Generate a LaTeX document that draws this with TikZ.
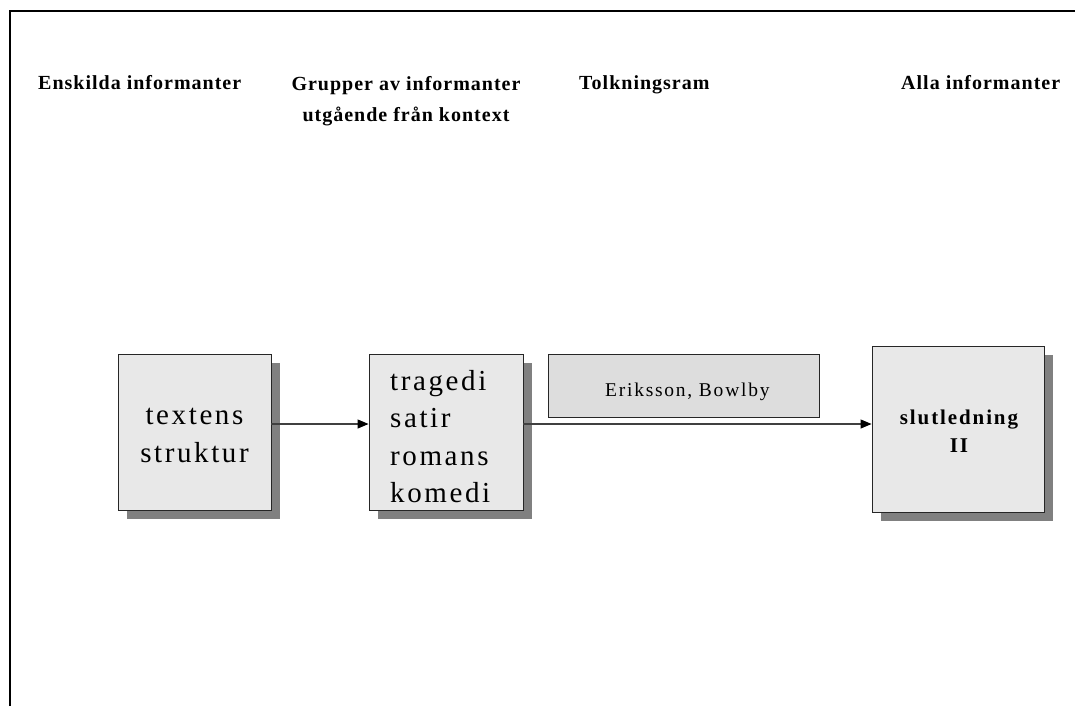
\documentclass[tikz,border=0pt]{standalone}
\usepackage{fontspec}
\setmainfont{Liberation Serif}
\newfontfamily\headfont[LetterSpace=5]{Liberation Serif}
\newfontfamily\boxfont[LetterSpace=9]{Liberation Serif}
\newfontfamily\namefont[LetterSpace=9]{Liberation Serif}
\newfontfamily\endfont[LetterSpace=9]{Liberation Serif}
\usetikzlibrary{arrows.meta,shadows}
\definecolor{boxgray}{HTML}{E8E8E8}
\definecolor{namegray}{HTML}{DDDDDD}
\definecolor{shadowgray}{HTML}{808080}
\tikzset{
  head/.style={font=\headfont\bfseries\fontsize{20}{31}\selectfont, inner sep=0pt},
  stagebox/.style={draw=black!85, line width=0.9pt, fill=boxgray, inner sep=0pt,
    drop shadow={shadow xshift=9pt, shadow yshift=-9pt, fill=shadowgray, opacity=1}},
  namebox/.style={draw=black!85, line width=0.9pt, fill=namegray, inner sep=0pt},
  boxtext/.style={font=\boxfont\fontsize{29}{37.5}\selectfont, inner sep=0pt},
  flow/.style={draw=black!75, line width=1.1pt, -{Triangle[length=11pt,width=9pt,color=black,fill=black]}},
}
\begin{document}
\begin{tikzpicture}[x=1pt,y=-1pt]
\useasboundingbox (0,0) rectangle (1075,706);
% frame along the top and left
\draw[line width=2.4pt] (10,706) -- (10,11) -- (1075,11);

% column headings
\node[head, anchor=base west] (h1) at (38,90) {Enskilda informanter};
\node[head, anchor=north, align=center] (h2) at (406,76.5) {Grupper av informanter\\utgående från kontext};
\node[head, anchor=base west] (h3) at (579,90) {Tolkningsram};
\node[head, anchor=base west] (h4) at (901,90) {Alla informanter};

% stage boxes
\node[stagebox, minimum width=153pt, minimum height=156pt] (b1) at (194.5,432) {};
\node[stagebox, minimum width=154pt, minimum height=156pt] (b2) at (446,432) {};
\node[namebox, minimum width=271pt, minimum height=63pt] (b3) at (683.5,385.5) {};
\node[stagebox, minimum width=172pt, minimum height=166pt] (b4) at (958,429) {};

% box texts
\node[boxtext, align=center] (t1) at ([yshift=-3.5pt]b1.center) {textens\\struktur};
\node[boxtext, align=left, anchor=west] (t2) at (390,436.5) {tragedi\\satir\\romans\\komedi};
\node[font=\namefont\fontsize{19.5}{23}\selectfont, inner sep=0pt, anchor=base west] (t3) at (605,396) {Eriksson, Bowlby};
\node[font=\endfont\bfseries\fontsize{21}{28}\selectfont, inner sep=0pt, align=center] (t4) at (959,431) {slutledning\\II};

% connectors
\draw[flow] ([yshift=8pt]b1.east) -- ([yshift=8pt]b2.west);
\draw[flow] ([yshift=8pt]b2.east) -- ([yshift=5pt]b4.west);
\end{tikzpicture}
\end{document}
